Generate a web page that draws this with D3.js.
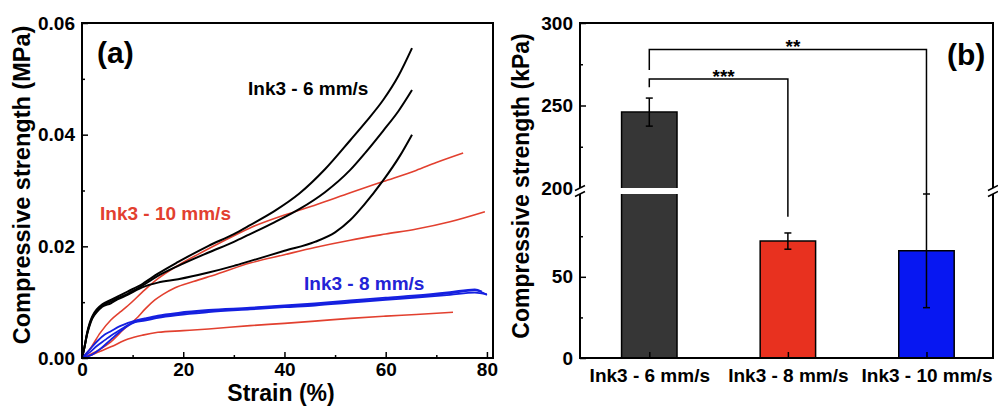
<!DOCTYPE html>
<html>
<head>
<meta charset="utf-8">
<script src="https://cdn.jsdelivr.net/npm/d3@7"></script>
<style>
  html, body { margin: 0; padding: 0; background: #fff; }
  svg { display: block; }
  text { font-family: "Liberation Sans", Arial, sans-serif; font-weight: bold; }
</style>
</head>
<body>
<svg id="chart" width="998" height="419"></svg>
<script>
// ---------------- DATA ----------------
// Panel (a): stress-strain curves, [strain %, stress MPa]
const black1 = [[0,0],[0.5,0.002],[1,0.0045],[1.5,0.0062],[2,0.0074],[3,0.0088],[4,0.0096],[5.7,0.0104],[7,0.011],[9,0.0119],[12,0.0133],[15,0.0151],[19,0.0172],[25,0.0201],[30,0.0222],[33.2,0.0238],[38,0.0263],[43,0.0295],[48,0.0338],[53,0.039],[56,0.0422],[59.5,0.0462],[62.5,0.0505],[65.2,0.0555]];
const black2 = [[0,0],[0.5,0.002],[1,0.0043],[1.5,0.006],[2,0.0072],[3,0.0085],[4,0.0094],[5.7,0.0101],[7,0.0107],[9,0.0115],[12,0.013],[15,0.0147],[19,0.0165],[25,0.0189],[30,0.0208],[33,0.0221],[38,0.0243],[43,0.0267],[48,0.0297],[53,0.0337],[56,0.0368],[59.5,0.0407],[62.5,0.0442],[65.2,0.048]];
const black3 = [[0,0],[0.5,0.002],[1,0.0042],[1.5,0.0058],[2,0.007],[3,0.0083],[4,0.0092],[5.7,0.0098],[7,0.0105],[9,0.0113],[12,0.0127],[15,0.0135],[19,0.0141],[25,0.0153],[30,0.0165],[33,0.0173],[40,0.0192],[46,0.0208],[50,0.0225],[53,0.0247],[55.6,0.0273],[59.5,0.0318],[62.8,0.0362],[65.2,0.040]];
const red1 = [[0,0],[1.5,0.0015],[3.6,0.0045],[5.7,0.0068],[7.5,0.0082],[9.1,0.0094],[12.4,0.0122],[15,0.0142],[19,0.0166],[23,0.0186],[27,0.0205],[33.2,0.0233],[40,0.0256],[46.4,0.0275],[53,0.0296],[59.5,0.0316],[66,0.0336],[70,0.035],[75.3,0.0367]];
const red2 = [[0,0],[2,0.0008],[3.6,0.0016],[5.7,0.0029],[8.2,0.0051],[11.1,0.0074],[12.5,0.0088],[14.4,0.0104],[16,0.0114],[18.4,0.0126],[22,0.0137],[26.6,0.015],[33.2,0.017],[40,0.0185],[46,0.0198],[53,0.0211],[60,0.0222],[66.1,0.0231],[72.7,0.0244],[79.6,0.0262]];
const red3 = [[0,0],[2,0.0006],[3.6,0.0012],[5.7,0.002],[9.1,0.0034],[12,0.0041],[15,0.0046],[20,0.0049],[25,0.0052],[33.2,0.0058],[40,0.0062],[46,0.0066],[53,0.0071],[60,0.0075],[66,0.0078],[73.3,0.0082]];
const blue1 = [[0,0],[1.5,0.001],[3,0.0022],[4.5,0.0032],[5.7,0.004],[7.5,0.005],[9.1,0.0059],[10.5,0.0065],[12.4,0.0069],[15,0.0074],[19,0.0079],[25,0.0084],[33.2,0.0089],[40,0.0093],[46,0.0096],[53,0.0101],[60,0.0106],[66,0.011],[72.7,0.0116],[77.6,0.0121],[80,0.0113]];
const blue2 = [[0,0],[1.5,0.0015],[3,0.003],[4.5,0.0042],[5.7,0.0048],[7.5,0.0057],[9.1,0.0063],[10.5,0.0067],[12.4,0.0071],[15,0.0076],[19,0.0081],[25,0.0086],[33.2,0.009],[40,0.0094],[46,0.0098],[53,0.0103],[60,0.0108],[66,0.0112],[72.7,0.0118],[77.6,0.0123],[79,0.0119]];
const blue3 = [[0,0],[2,0.0006],[3.6,0.0016],[5.7,0.0033],[7.5,0.0047],[9.1,0.0058],[10.5,0.0064],[12.4,0.0067],[15,0.0072],[19,0.0077],[25,0.0082],[33.2,0.0087],[40,0.0091],[46,0.0094],[53,0.0099],[60,0.0104],[66,0.0108],[72.7,0.0113],[77.6,0.0117],[80,0.0114]];

const strainTicks = [0, 20, 40, 60, 80];
const strainMinor = [10, 30, 50, 70];
const stressTicks = [0, 0.02, 0.04, 0.06];
const stressMinor = [0.01, 0.03, 0.05];
const curveLabels = ["Ink3 - 6 mm/s", "Ink3 - 10 mm/s", "Ink3 - 8 mm/s"];

// Panel (b): bar chart (kPa)
const categories = ["Ink3 - 6 mm/s", "Ink3 - 8 mm/s", "Ink3 - 10 mm/s"];
const barValues = [246, 72, 66];
const barErrors = [8.5, 5, 35];
const lowTicks = [0, 50];
const lowMinor = [25, 75];
const highTicks = [200, 250, 300];
const highMinor = [225, 275];
// significance brackets: [from index, to index, top kPa, left leg end kPa, right leg end kPa, label]
const brackets = [
  [0, 1, 266, 261, 87, "***"],
  [0, 2, 284, 271.5, 101, "**"]
];

// ---------------- DRAW ----------------
const svg = d3.select("#chart");
const FONT = "'Liberation Sans', Arial, sans-serif";

// ---- Panel (a) ----
const xA = d3.scaleLinear().domain([0, 81.2]).range([82, 493]);
const yA = d3.scaleLinear().domain([0, 0.06]).range([358, 23]);
const gA = svg.append("g");

const line = d3.line().x(d => xA(d[0])).y(d => yA(d[1])).curve(d3.curveMonotoneX);
const curves = [
  [red3, "#e2402f", 1.6], [red2, "#e2402f", 1.6], [red1, "#e2402f", 1.6],
  [black3, "#000", 2], [black2, "#000", 2], [black1, "#000", 2],
  [blue3, "#1520e0", 1.8], [blue1, "#1520e0", 1.8], [blue2, "#1520e0", 1.8]
];
curves.forEach(([d, c, w]) => {
  gA.append("path").datum(d).attr("d", line)
    .attr("fill", "none").attr("stroke", c).attr("stroke-width", w)
    .attr("stroke-linejoin", "round");
});

function styleAxis(g, size) {
  g.select(".domain").remove();
  g.selectAll(".tick line").attr("stroke", "#000").attr("stroke-width", 1.5);
  g.selectAll("text").attr("font-family", FONT).attr("font-weight", "bold")
    .attr("font-size", size).attr("fill", "#000");
}

// x axis (a)
const gxA = gA.append("g").attr("transform", "translate(0,358)")
  .call(d3.axisBottom(xA).tickValues(strainTicks).tickFormat(d3.format("d"))
    .tickSizeInner(-6).tickSizeOuter(0).tickPadding(5));
styleAxis(gxA, 19);
gA.append("g").attr("transform", "translate(0,358)")
  .call(d3.axisBottom(xA).tickValues(strainMinor).tickFormat("").tickSizeInner(-3).tickSizeOuter(0))
  .call(g => styleAxis(g, 19));
// y axis (a)
const gyA = gA.append("g").attr("transform", "translate(82,0)")
  .call(d3.axisLeft(yA).tickValues(stressTicks).tickFormat(d3.format(".2f"))
    .tickSizeInner(-6).tickSizeOuter(0).tickPadding(7));
styleAxis(gyA, 19);
gA.append("g").attr("transform", "translate(82,0)")
  .call(d3.axisLeft(yA).tickValues(stressMinor).tickFormat("").tickSizeInner(-3).tickSizeOuter(0))
  .call(g => styleAxis(g, 19));

// frame (a)
gA.append("rect").attr("x", xA.range()[0]).attr("y", yA.range()[1])
  .attr("width", xA.range()[1] - xA.range()[0]).attr("height", yA.range()[0] - yA.range()[1])
  .attr("fill", "none").attr("stroke", "#000").attr("stroke-width", 2);

// axis titles (a)
gA.append("text").attr("transform", "translate(30,185) rotate(-90)")
  .attr("text-anchor", "middle").attr("font-size", 23.5).text("Compressive strength (MPa)");
gA.append("text").attr("x", 281).attr("y", 401).attr("text-anchor", "middle")
  .attr("font-size", 23).text("Strain (%)");

// annotations (a)
gA.append("text").attr("x", 97).attr("y", 63).attr("font-size", 30).text("(a)");
gA.append("text").attr("x", 248).attr("y", 95).attr("font-size", 19).attr("fill", "#000").text(curveLabels[0]);
gA.append("text").attr("x", 100).attr("y", 220).attr("font-size", 19).attr("fill", "#e2402f").text(curveLabels[1]);
gA.append("text").attr("x", 304).attr("y", 290).attr("font-size", 19).attr("fill", "#2323d6").text(curveLabels[2]);

// ---- Panel (b) ----
const xB = d3.scaleLinear().domain([0.5, 3.48]).range([580, 993]);
const yLow = d3.scaleLinear().domain([0, 101]).range([358, 194]);
const yHigh = d3.scaleLinear().domain([200, 300]).range([188, 23]);
const yB = v => (v <= 101 ? yLow(v) : yHigh(v));
const breakTop = yHigh(200), breakBot = yLow(101);
const gB = svg.append("g");
const barColors = ["#363636", "#e8311f", "#0717f2"];
const halfW = 0.2;

categories.forEach((c, i) => {
  const cx = xB(i + 1);
  const x0 = xB(i + 1 - halfW), x1 = xB(i + 1 + halfW);
  const v = barValues[i];
  const segs = v > 101 ? [[0, 101, false], [200, v, true]] : [[0, v, true]];
  segs.forEach(([a, b, topEdge]) => {
    const yt = yB(b), yb = yB(a);
    gB.append("rect").attr("x", x0).attr("y", yt).attr("width", x1 - x0).attr("height", yb - yt)
      .attr("fill", barColors[i]);
    const p = d3.path();
    p.moveTo(x0, yb); p.lineTo(x0, yt);
    if (topEdge) p.lineTo(x1, yt); else p.moveTo(x1, yt);
    p.lineTo(x1, yb);
    gB.append("path").attr("d", p.toString()).attr("fill", "none")
      .attr("stroke", "#000").attr("stroke-width", 1.5);
  });
  // error bar
  const e = barErrors[i];
  const yt = yB(v + e), ybt = yB(v - e);
  gB.append("line").attr("x1", cx).attr("x2", cx).attr("y1", yt).attr("y2", ybt)
    .attr("stroke", "#000").attr("stroke-width", 1.5);
  [yt, ybt].forEach(yy => gB.append("line").attr("x1", cx - 3.5).attr("x2", cx + 3.5)
    .attr("y1", yy).attr("y2", yy).attr("stroke", "#000").attr("stroke-width", 1.5));
});

// brackets
brackets.forEach(([a, b, top, le, re, lab]) => {
  const xa = xB(a + 1), xb = xB(b + 1);
  const p = d3.path();
  p.moveTo(xa, yB(le)); p.lineTo(xa, yB(top)); p.lineTo(xb, yB(top)); p.lineTo(xb, yB(re));
  gB.append("path").attr("d", p.toString()).attr("fill", "none")
    .attr("stroke", "#000").attr("stroke-width", 1.5);
  gB.append("text").attr("x", (xa + xb) / 2 + 5).attr("y", yB(top) + 4)
    .attr("text-anchor", "middle").attr("font-size", 19).text(lab);
});

// axes (b)
const gxB = gB.append("g").attr("transform", "translate(0,358)")
  .call(d3.axisBottom(xB).tickValues([1, 2, 3]).tickFormat((d, i) => categories[i])
    .tickSizeInner(-6).tickSizeOuter(0).tickPadding(11));
styleAxis(gxB, 19);
const gyLow = gB.append("g").attr("transform", "translate(580,0)")
  .call(d3.axisLeft(yLow).tickValues(lowTicks).tickSizeInner(-6).tickSizeOuter(0).tickPadding(7));
styleAxis(gyLow, 19);
gB.append("g").attr("transform", "translate(580,0)")
  .call(d3.axisLeft(yLow).tickValues(lowMinor).tickFormat("").tickSizeInner(-3).tickSizeOuter(0))
  .call(g => styleAxis(g, 19));
const gyHigh = gB.append("g").attr("transform", "translate(580,0)")
  .call(d3.axisLeft(yHigh).tickValues(highTicks).tickSizeInner(-6).tickSizeOuter(0).tickPadding(7));
styleAxis(gyHigh, 19);
gyHigh.selectAll(".tick").filter(d => d === 200).select("line").remove();
gB.append("g").attr("transform", "translate(580,0)")
  .call(d3.axisLeft(yHigh).tickValues(highMinor).tickFormat("").tickSizeInner(-3).tickSizeOuter(0))
  .call(g => styleAxis(g, 19));

// frame (b) with breaks
const L = 580, R = 993, T = yHigh(300), B = yLow(0);
const fr = d3.path();
fr.moveTo(L, breakTop); fr.lineTo(L, T); fr.lineTo(R, T); fr.lineTo(R, breakTop);
fr.moveTo(L, breakBot); fr.lineTo(L, B); fr.lineTo(R, B); fr.lineTo(R, breakBot);
gB.append("path").attr("d", fr.toString()).attr("fill", "none")
  .attr("stroke", "#000").attr("stroke-width", 2);
[L, R].forEach(x => {
  [breakTop, breakBot].forEach(yy => {
    gB.append("line").attr("x1", x - 5).attr("x2", x + 5).attr("y1", yy + 2.5).attr("y2", yy - 2.5)
      .attr("stroke", "#000").attr("stroke-width", 1.5);
  });
});

// axis title (b)
gB.append("text").attr("transform", "translate(529,186) rotate(-90)")
  .attr("text-anchor", "middle").attr("font-size", 23).text("Compressive strength (kPa)");
gB.append("text").attr("x", 947).attr("y", 65).attr("font-size", 30).text("(b)");
</script>
</body>
</html>
